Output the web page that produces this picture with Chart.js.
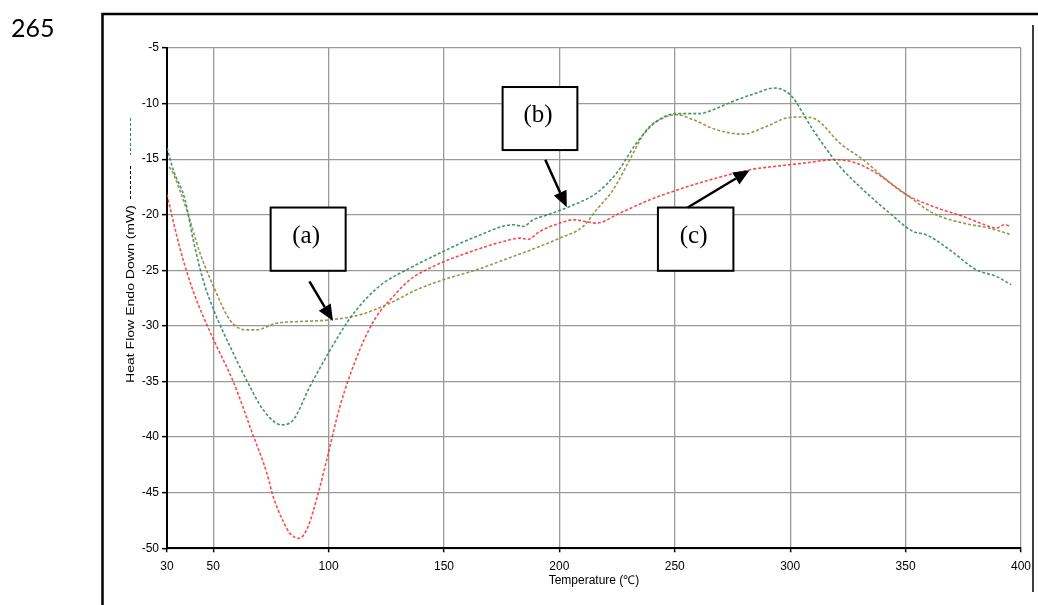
<!DOCTYPE html>
<html>
<head>
<meta charset="utf-8">
<script src="https://cdn.jsdelivr.net/npm/chart.js@4"></script>
<style>
  html, body { margin: 0; padding: 0; background: #fff; }
  #wrap { position: relative; width: 1038px; height: 605px; }
  canvas { display: block; }
</style>
</head>
<body>
<div id="wrap"><canvas id="c" width="1038" height="605"></canvas></div>
<script>
// ---- Data ----
const xTicks = [30, 50, 100, 150, 200, 250, 300, 350, 400];

// (b) green curve
const greenT = [30, 32.7, 37.8, 41.4, 45.7, 50.8, 58.7, 65.9, 71.7, 79.7, 84.7, 91.9, 99.9, 104.9, 109.3, 116.5, 123.7, 133.8, 149.7, 164.1, 180, 184.3, 188.6, 195, 204.5, 216.1, 224.8, 233.4, 242.1, 250.7, 260.8, 266.6, 275.3, 285.4, 293, 300, 310, 321.5, 331.6, 343.1, 353.2, 359, 369.1, 380.7, 389.3, 395.8];
const greenY = [-14.0, -15.95, -18.65, -22.3, -25.9, -28.85, -32.45, -35.45, -37.55, -38.9, -38.45, -35.45, -32.45, -30.7, -29.3, -27.5, -26.15, -24.95, -23.3, -21.95, -20.9, -21.05, -20.45, -20.0, -19.25, -18.05, -16.25, -13.55, -11.6, -10.9, -10.9, -10.55, -9.8, -9.05, -8.6, -9.2, -12.4, -15.65, -17.75, -19.85, -21.5, -21.8, -23.15, -24.95, -25.55, -26.3];

// (a) olive curve
const oliveT = [31, 32.5, 38.5, 44.3, 50.8, 57.2, 63.8, 68.8, 77.5, 87.6, 100.6, 113.6, 126.6, 138.1, 149.7, 164.1, 180, 191.5, 200.2, 210.3, 216.1, 223.3, 230.5, 237.8, 245, 250.7, 257.9, 268, 279.6, 289.7, 298.4, 305, 311.4, 321.5, 331.6, 341.7, 350.4, 361.9, 374.9, 386.4, 395.8];
const oliveY = [-15.7, -16.2, -19.55, -23.45, -26.75, -29.45, -30.35, -30.35, -29.75, -29.6, -29.45, -29.0, -27.95, -26.75, -25.85, -24.95, -23.75, -22.85, -22.1, -21.05, -19.55, -17.75, -15.05, -12.35, -11.3, -11.0, -11.45, -12.35, -12.75, -12.05, -11.3, -11.2, -11.45, -13.55, -15.05, -16.85, -18.2, -19.85, -20.75, -21.2, -21.8];

// (c) red curve
const redT = [30, 35.6, 41.4, 50.1, 58.7, 66.7, 73.2, 76, 80.4, 83.5, 87.3, 91, 95.5, 99.2, 104.9, 113.6, 120.8, 128, 135.2, 145.3, 159.8, 178.5, 182.9, 186.5, 191.5, 200.2, 206, 216.1, 226.2, 239.2, 253.6, 268, 282.5, 295.4, 304.1, 319.9, 328.6, 337.3, 350.4, 361.9, 374.9, 386.4, 389.3, 392.9, 395.5];
const redY = [-18.2, -23.0, -26.9, -31.2, -35.0, -39.5, -43.2, -45.35, -47.6, -48.7, -49.1, -48.1, -45.05, -42.05, -37.25, -32.1, -29.15, -27.35, -25.85, -24.65, -23.45, -22.25, -22.1, -22.2, -21.5, -20.75, -20.45, -20.75, -19.85, -18.65, -17.6, -16.7, -15.95, -15.6, -15.4, -15.05, -15.35, -16.25, -18.2, -19.25, -20.15, -21.05, -21.2, -20.9, -21.05];

// Callout labels, placed in data units (box corners and arrow start/tip)
const calloutLabels = ['(a)', '(b)', '(c)'];
const calloutBoxX = [[74.9, 107.4], [175.4, 207.8], [242.7, 275.4]];
const calloutBoxY = [[-19.35, -25.04], [-8.51, -14.18], [-19.35, -25.04]];
const calloutFrom = [[91.7, -26.0], [193.9, -15.05], [255.6, -19.35]];
const calloutTip = [[101.9, -29.54], [203.2, -19.33], [282.4, -16.0]];

const pts = (T, Y) => T.map((t, i) => ({ x: t, y: Y[i] }));

const lineStyle = {
  borderWidth: 1.6,
  borderDash: [3, 2],
  pointRadius: 0,
  fill: false,
  cubicInterpolationMode: 'monotone'
};

// Decorations: page frame, page number, y-axis title with line markers, callouts
const decor = {
  id: 'decor',
  beforeDraw(chart) {
    const ctx = chart.ctx;
    ctx.save();
    ctx.fillStyle = '#fff';
    ctx.fillRect(0, 0, chart.width, chart.height);
    // page number
    ctx.fillStyle = '#000';
    ctx.font = '25px Lato, "Liberation Sans", sans-serif';
    ctx.textBaseline = 'alphabetic';
    ctx.textAlign = 'left';
    ctx.fillText('265', 11, 37);
    // outer frame
    ctx.strokeStyle = '#000';
    ctx.lineWidth = 2.5;
    ctx.beginPath();
    ctx.moveTo(1038, 14);
    ctx.lineTo(102.5, 14);
    ctx.lineTo(102.5, 605);
    ctx.stroke();
    ctx.lineWidth = 1.5;
    ctx.beginPath();
    ctx.moveTo(1033, 25);
    ctx.lineTo(1033, 592);
    ctx.stroke();
    ctx.restore();
  },
  afterDraw(chart) {
    const ctx = chart.ctx;
    const xs = chart.scales.x, ys = chart.scales.y;
    ctx.save();
    // y-axis title (stretched, as in the reference)
    const title = 'Heat Flow Endo Down (mW)';
    ctx.font = '11px "Liberation Sans", Arial, sans-serif';
    const w = ctx.measureText(title).width;
    ctx.translate(131, 294);
    ctx.rotate(-Math.PI / 2);
    ctx.scale(178 / w, 1);
    ctx.fillStyle = '#000';
    ctx.textAlign = 'center';
    ctx.textBaseline = 'middle';
    ctx.fillText(title, 0, 0);
    ctx.restore();

    // legend line markers next to the title
    ctx.save();
    ctx.lineWidth = 1;
    ctx.setLineDash([3, 2]);
    ctx.strokeStyle = '#2e8b57';
    ctx.beginPath(); ctx.moveTo(130.5, 118); ctx.lineTo(130.5, 155); ctx.stroke();
    ctx.strokeStyle = '#000';
    ctx.beginPath(); ctx.moveTo(130.5, 166); ctx.lineTo(130.5, 201); ctx.stroke();
    ctx.restore();

    // callouts
    ctx.save();
    for (let i = 0; i < calloutLabels.length; i++) {
      const x1 = xs.getPixelForValue(calloutBoxX[i][0]);
      const x2 = xs.getPixelForValue(calloutBoxX[i][1]);
      const y1 = ys.getPixelForValue(calloutBoxY[i][0]);
      const y2 = ys.getPixelForValue(calloutBoxY[i][1]);
      ctx.fillStyle = '#fff';
      ctx.fillRect(x1, y1, x2 - x1, y2 - y1);
      ctx.strokeStyle = '#000';
      ctx.lineWidth = 2;
      ctx.strokeRect(x1, y1, x2 - x1, y2 - y1);
      ctx.fillStyle = '#000';
      ctx.font = '25px "Liberation Serif", "Times New Roman", serif';
      ctx.textAlign = 'center';
      ctx.textBaseline = 'middle';
      ctx.fillText(calloutLabels[i], (x1 + x2) / 2 - 2, (y1 + y2) / 2 - 3);

      // arrow
      const fx = xs.getPixelForValue(calloutFrom[i][0]);
      const fy = ys.getPixelForValue(calloutFrom[i][1]);
      const tx = xs.getPixelForValue(calloutTip[i][0]);
      const ty = ys.getPixelForValue(calloutTip[i][1]);
      const ang = Math.atan2(ty - fy, tx - fx);
      const headLen = 16, headHalf = 7;
      const bx = tx - headLen * Math.cos(ang), by = ty - headLen * Math.sin(ang);
      ctx.lineWidth = 2.5;
      ctx.beginPath(); ctx.moveTo(fx, fy); ctx.lineTo(bx, by); ctx.stroke();
      ctx.beginPath();
      ctx.moveTo(tx, ty);
      ctx.lineTo(bx + headHalf * Math.sin(ang), by - headHalf * Math.cos(ang));
      ctx.lineTo(bx - headHalf * Math.sin(ang), by + headHalf * Math.cos(ang));
      ctx.closePath();
      ctx.fill();
    }
    ctx.restore();
  }
};

new Chart(document.getElementById('c'), {
  type: 'line',
  data: {
    datasets: [
      Object.assign({ label: '(b)', data: pts(greenT, greenY), borderColor: 'rgba(46,139,87,0.9)' }, lineStyle),
      Object.assign({ label: '(a)', data: pts(oliveT, oliveY), borderColor: 'rgba(139,139,60,0.9)' }, lineStyle),
      Object.assign({ label: '(c)', data: pts(redT, redY), borderColor: 'rgba(255,40,40,0.85)' }, lineStyle)
    ]
  },
  options: {
    responsive: false,
    animation: false,
    devicePixelRatio: 1,
    layout: { padding: { left: 0, top: 48, right: 16.5, bottom: 0 } },
    plugins: { legend: { display: false }, tooltip: { enabled: false } },
    scales: {
      x: {
        type: 'linear',
        min: 30,
        max: 400,
        afterBuildTicks: (axis) => { axis.ticks = xTicks.map(v => ({ value: v })); },
        afterFit: (scale) => { scale.height = 56.7; },
        ticks: {
          autoSkip: false,
          maxRotation: 0,
          padding: 7,
          color: '#000',
          font: { family: '"Liberation Sans", Arial, sans-serif', size: 12 }
        },
        grid: { color: '#9a9a9a', lineWidth: 1.3, tickLength: 4, tickColor: '#000', tickWidth: 1.5 },
        border: { color: '#000', width: 2 },
        title: {
          display: true,
          text: 'Temperature (℃)',
          color: '#000',
          font: { family: '"Liberation Sans", Arial, sans-serif', size: 12 },
          padding: { top: 0, bottom: 17 }
        }
      },
      y: {
        min: -50,
        max: -5,
        afterFit: (scale) => { scale.width = 167; },
        ticks: {
          stepSize: 5,
          padding: 3,
          color: '#000',
          font: { family: '"Liberation Sans", Arial, sans-serif', size: 12 }
        },
        grid: { color: '#9a9a9a', lineWidth: 1.3, tickLength: 5, tickColor: '#000', tickWidth: 1.5 },
        border: { color: '#000', width: 2 }
      }
    }
  },
  plugins: [decor]
});
</script>
</body>
</html>
